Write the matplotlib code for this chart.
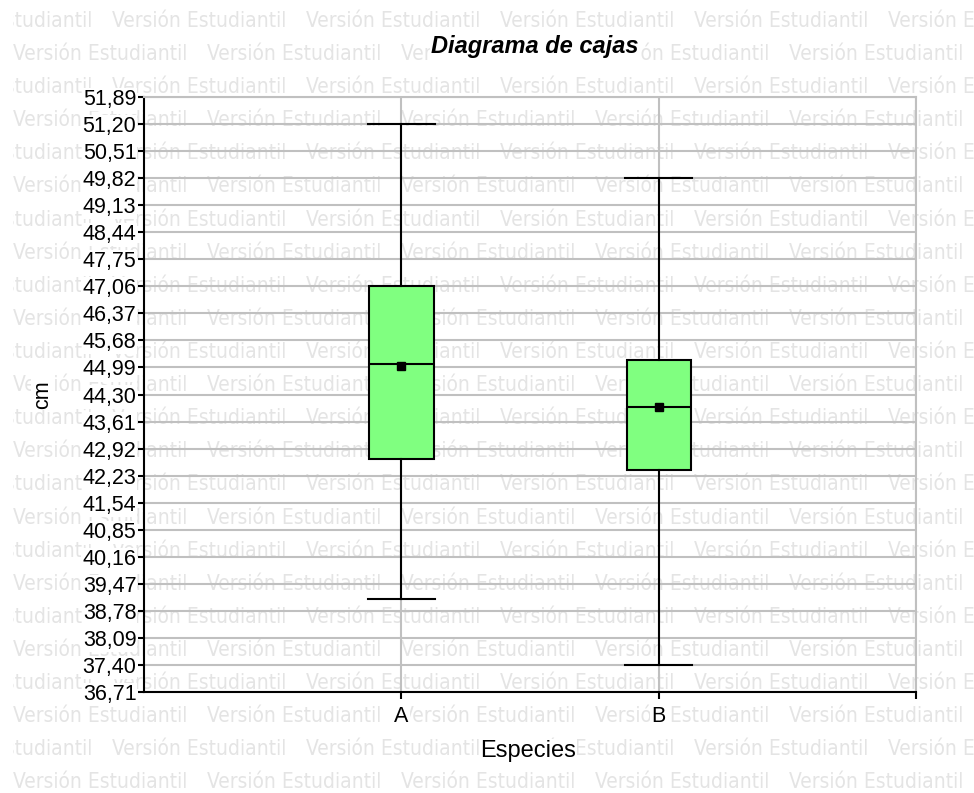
import numpy as np
import matplotlib
matplotlib.use("Agg")
import matplotlib.pyplot as plt
from matplotlib.patches import Rectangle

plt.rcParams['font.family'] = ['Liberation Sans', 'DejaVu Sans']

# datos
species = ['A', 'B']
whislo = [39.09, 37.40]
q1 = [42.66, 42.37]
med = [45.09, 43.99]
mean = [45.02, 43.98]
q3 = [47.06, 45.19]
whishi = [51.20, 49.82]

y_min, y_step, n_ticks = 36.71, 0.69, 23
y_ticks = np.round(y_min + y_step * np.arange(n_ticks), 2)
y_labels = [f'{v:.2f}'.replace('.', ',') for v in y_ticks]

W, H = 974, 793
fig = plt.figure(figsize=(W / 100, H / 100), dpi=100)
white = dict(facecolor='white', edgecolor='none', pad=0.8)

# marca de agua "Versión Estudiantil"
clip = Rectangle((13 / W, 0), 1, 1, transform=fig.transFigure)
for i in range(24):
    yb = 27 + i * 33.1
    x0 = -82 if i % 2 == 0 else 13
    for k in range(7):
        t = fig.text((x0 + k * 194) / W, 1 - yb / H, 'Versión Estudiantil',
                     ha='left', va='baseline', color='#e4e4e4', fontsize=15,
                     family='DejaVu Sans', stretch='condensed', zorder=-1)
        t.set_clip_path(clip)

ax = fig.add_axes([144 / W, 1 - 692 / H, (916 - 144) / W, (692 - 97) / H])
ax.set_facecolor('none')

stats = []
for i, s in enumerate(species):
    stats.append(dict(label=s, whislo=whislo[i], q1=q1[i], med=med[i],
                      q3=q3[i], whishi=whishi[i], mean=mean[i], fliers=[]))

ax.bxp(stats, positions=[1, 2], widths=0.25, capwidths=0.26,
       patch_artist=True, showmeans=True, showfliers=False,
       boxprops=dict(facecolor='#80ff80', edgecolor='black', linewidth=1.5),
       medianprops=dict(color='black', linewidth=1.5),
       whiskerprops=dict(color='black', linewidth=1.5),
       capprops=dict(color='black', linewidth=1.5),
       meanprops=dict(marker='s', markerfacecolor='black',
                      markeredgecolor='black', markersize=6))

ax.set_xlim(0, 3)
ax.set_ylim(y_ticks[0], y_ticks[-1])
ax.set_yticks(y_ticks, y_labels)
ax.set_xticks([1, 2, 3], species + [''])

ax.grid(True, color='#c0c0c0', linewidth=1.5)
ax.set_axisbelow(True)
for side in ['left', 'bottom']:
    ax.spines[side].set_color('black')
    ax.spines[side].set_linewidth(1.5)
for side in ['top', 'right']:
    ax.spines[side].set_color('#c0c0c0')
    ax.spines[side].set_linewidth(1.5)

ax.tick_params(axis='y', direction='out', length=4, width=1.5, pad=1.5, labelsize=15.5)
ax.tick_params(axis='x', direction='out', length=5, width=1.5, pad=5, labelsize=15.5)
for lab in ax.get_yticklabels() + ax.get_xticklabels():
    lab.set_bbox(white)

fig.text(535 / W, 1 - 47 / H, 'Diagrama de cajas', ha='center', va='center',
         fontsize=17, fontweight='bold', fontstyle='italic', bbox=white)
ax.set_xlabel('Especies', fontsize=17, va='center', bbox=white)
ax.xaxis.set_label_coords((528 - 144) / 772, -(751 - 692) / 595)
ax.set_ylabel('cm', fontsize=15.5, va='center', ha='center', bbox=white)
ax.yaxis.set_label_coords((43 - 144) / 772, 0.5)

fig.savefig('out.png', dpi=100)
